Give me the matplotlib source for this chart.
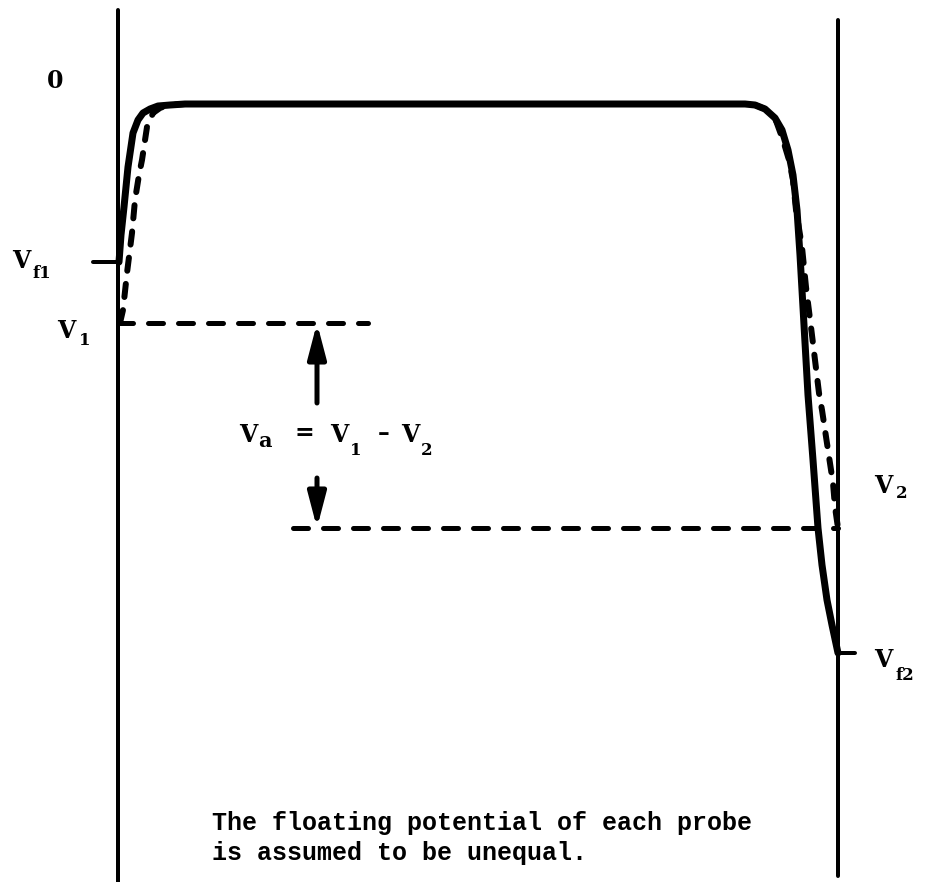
import matplotlib
matplotlib.use("Agg")
import matplotlib.pyplot as plt

# ---- data (schematic, in drawing units: x = position, y = potential level, downward positive) ----
probe_x = [118, 838]
probe_top = [10, 20]
probe_bottom = [882, 876]

plateau = 104
level_V1 = 323
level_V2 = 528
level_Vf1 = 262
level_Vf2 = 653

# solid curve: probe potential profile ending at floating potentials
solid_x = [119, 121, 124, 128, 133, 138, 143, 150, 158, 170, 185,
           745, 755, 765, 775, 782, 788, 793, 797, 800, 804, 808, 813, 818, 822, 827, 832, 838]
solid_y = [262, 235, 207, 167, 133, 120, 113, 109, 106, 105, 104,
           104, 105, 109, 118, 130, 150, 175, 210, 255, 325, 395, 460, 528, 565, 600, 625, 653]

# dashed curve: profile ending at V1 and V2
dashed_x = [120, 123, 127, 132, 135, 139, 142, 147, 153, 160, 168, 185,
            745, 755, 765, 775, 783, 789, 793, 796, 802, 806, 811, 815, 819, 822, 828, 833, 835, 838]
dashed_y = [323, 310, 273, 233, 200, 175, 160, 127, 113, 108, 105, 104,
            104, 105, 109, 118, 140, 160, 180, 210, 247, 287, 327, 360, 393, 410, 450, 483, 507, 528]

v1_line_x = [118, 368]
v2_line_x = [293, 838]

arrow_x = 317
arrow_up_tail = 403
arrow_down_tail = 478

caption = ["The floating potential of each probe",
           "is assumed to be unequal."]

# ---- figure ----
W, H = 927, 882
fig = plt.figure(figsize=(W / 100, H / 100), dpi=100)
ax = fig.add_axes([0, 0, 1, 1])
ax.set_xlim(0, W)
ax.set_ylim(H, 0)
ax.axis("off")

k = 0.72  # px -> pt at 100 dpi

# probes
for x, t, b in zip(probe_x, probe_top, probe_bottom):
    ax.plot([x, x], [t, b], color="black", lw=4 * k, solid_capstyle="round")

# floating-potential ticks
ax.plot([93, probe_x[0]], [level_Vf1, level_Vf1], color="black", lw=4 * k, solid_capstyle="round")
ax.plot([probe_x[1], 855], [level_Vf2, level_Vf2], color="black", lw=4 * k, solid_capstyle="round")

# dashed curve
ax.plot(dashed_x, dashed_y, color="black", lw=6 * k, dashes=(2.2, 2.2),
        dash_capstyle="round", dash_joinstyle="round")
# solid curve
ax.plot(solid_x, solid_y, color="black", lw=7 * k, solid_capstyle="round",
        solid_joinstyle="round")

# horizontal dashed reference lines
ax.plot(v1_line_x, [level_V1, level_V1], color="black", lw=5 * k, dashes=(3, 3),
        dash_capstyle="round")
ax.plot(v2_line_x, [level_V2, level_V2], color="black", lw=5 * k, dashes=(3, 3),
        dash_capstyle="round")

# arrows
astyle = "-|>,head_length=2.1,head_width=0.55"
ax.annotate("", xy=(arrow_x, level_V1), xytext=(arrow_x, arrow_up_tail),
            arrowprops=dict(arrowstyle=astyle, mutation_scale=10, lw=5 * k,
                            color="black", shrinkA=0, shrinkB=0))
ax.annotate("", xy=(arrow_x, level_V2), xytext=(arrow_x, arrow_down_tail),
            arrowprops=dict(arrowstyle=astyle, mutation_scale=10, lw=5 * k,
                            color="black", shrinkA=0, shrinkB=0))

# labels
base = dict(family="DejaVu Serif", weight="bold", color="black", va="baseline")
main_fs = 17
sub_fs = 12


def vlabel(x, y, sub, sx, sy, sfs=sub_fs):
    ax.text(x, y, "V", fontsize=main_fs, ha="left", **base)
    ax.text(sx, sy, sub, fontsize=sfs, ha="left", **base)


ax.text(55, 88, "0", fontsize=main_fs, ha="center", **base)
vlabel(12, 268, "f1", 33, 278)
vlabel(57, 338, "1", 79, 345)
vlabel(874, 493, "2", 896, 498)
vlabel(874, 667, "f2", 896, 680)

# V_a = V_1 - V_2
vlabel(239, 442, "a", 258, 447, sfs=15)
ax.text(304, 440, "=", fontsize=main_fs, ha="center", **base)
vlabel(330, 442, "1", 350, 455)
ax.text(384, 440, "\u2013", fontsize=main_fs, ha="center", **base)
vlabel(401, 442, "2", 421, 455)

# caption
for i, line in enumerate(caption):
    ax.text(212, 830 + 30 * i, line, fontsize=18, family="Liberation Mono",
            weight="bold", ha="left", va="baseline")

fig.savefig("out.png", dpi=100)
